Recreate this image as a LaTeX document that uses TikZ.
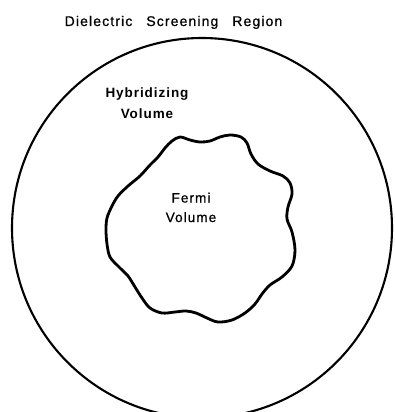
\documentclass[tikz,border=0pt]{standalone}
\usepackage{fontspec}
\setmainfont{Liberation Sans}
\newfontfamily\lblfont[LetterSpace=8,FakeBold=0.8]{Liberation Sans}
\newfontfamily\boldlblfont[LetterSpace=7]{Liberation Sans Bold}
\begin{document}
\begin{tikzpicture}[x=1pt,y=-1pt,
  lbl/.style={inner sep=0pt, anchor=base, align=center, font=\lblfont\fontsize{13.5}{19.5}\selectfont},
  boldlbl/.style={lbl, font=\boldlblfont\fontsize{13.5}{21}\selectfont},
  region/.style={draw=black, line width=2.1pt},
  fermiline/.style={draw=black, line width=2.8pt, line join=round}]
\useasboundingbox (0,0) rectangle (394,412);
\clip (0,0) rectangle (394,412);
\node[region, circle, minimum size=380pt, inner sep=0pt] (screen) at (202,228) {};
\draw[fermiline] plot[smooth cycle, tension=0.55] coordinates {
 (172,141) (180,137) (190,140) (200,142) (210,141) (220,137) (230,135) (241,137)
 (247,143) (251,154) (258,164) (270,171) (283,176) (290,183) (292,194) (288,207)
 (287,219) (292,232) (295,250) (292,266) (282,277) (270,285) (262,294) (255,304)
 (245,313) (232,320) (218,322) (207,318) (196,313) (186,311) (175,312) (162,313)
 (150,308) (142,298) (135,287) (128,276) (119,267) (110,257) (107,244) (106,230)
 (107,218) (112,206) (118,196) (128,186) (140,176) (150,165) (158,157) (165,148)};
\coordinate (fermi) at (191,222);
\node[lbl, font=\lblfont\fontsize{14}{21}\selectfont] (title) at (173.5,26) {Dielectric\hspace{9pt} Screening\hspace{9pt} Region};
\node[boldlbl] (hyb) at (147,118) {Hybridizing\\Volume};
\node[lbl] (fermilbl) at (fermi) {Fermi\\Volume};
\end{tikzpicture}
\end{document}
